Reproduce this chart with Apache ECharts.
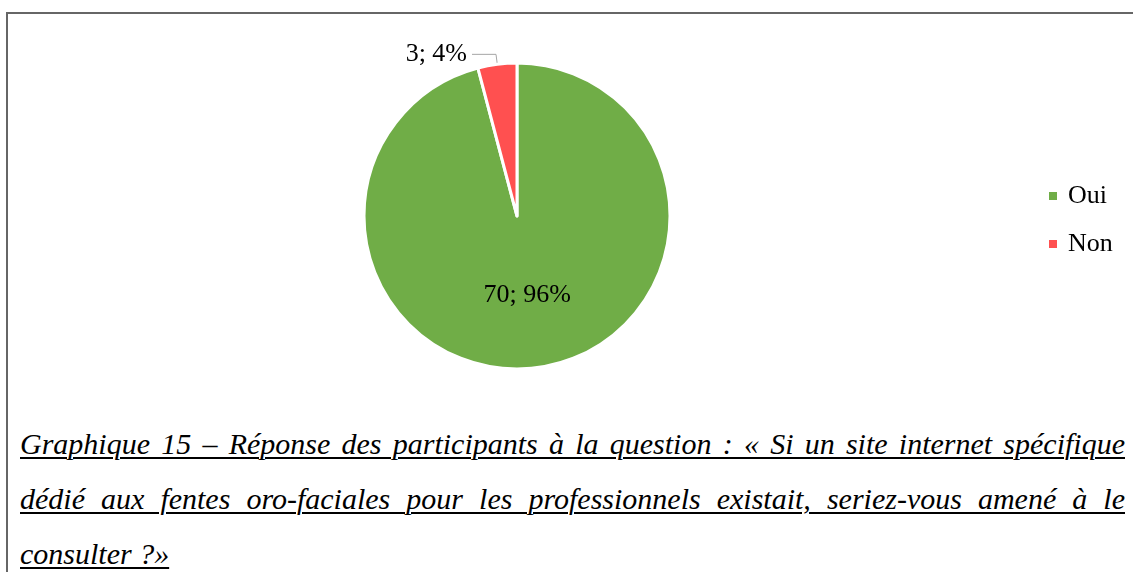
<!DOCTYPE html>
<html>
<head>
<meta charset="utf-8">
<script src="https://cdn.jsdelivr.net/npm/echarts@6/dist/echarts.min.js"></script>
<style>
  body { margin: 0; background: #fff; }
  #frame {
    position: absolute; left: 6px; top: 12px; width: 1140px; height: 600px;
    border-left: 2px solid #666; border-top: 2px solid #666;
  }
  #chart { position: absolute; left: 0; top: 0; width: 1127px; height: 380px; }
  #caption {
    position: absolute; left: 12px; top: 402px; width: 1105px;
    font-family: "Liberation Serif", serif; font-style: italic; font-size: 30px;
    line-height: 55px; color: #000;
  }
  #caption div { white-space: nowrap; text-decoration: underline; text-decoration-thickness: 2px; text-underline-offset: 3px; }
  #caption .j { text-align: justify; text-align-last: justify; }
</style>
</head>
<body>
<div id="frame">
  <div id="chart"></div>
  <div id="caption">
    <div class="j">Graphique 15 – Réponse des participants à la question : « Si un site internet spécifique</div>
    <div class="j">dédié aux fentes oro-faciales pour les professionnels existait, seriez-vous amené à le</div>
    <div><span>consulter ?»</span></div>
  </div>
</div>
<script>
var categories = ['Oui', 'Non'];
var counts = [70, 3];
var percents = ['96%', '4%'];
var colors = ['#70ad47', '#ff5050'];

var myChart = echarts.init(document.getElementById('chart'));

var data = [];
for (var i = 0; i < categories.length; i++) {
    data.push({
        name: categories[i],
        value: counts[i],
        pct: percents[i],
        itemStyle: {color: colors[i]},
        label: i === 0 ? {position: 'inside'} : {position: 'outside'}
    });
}

myChart.setOption({
    animation: false,
    legend: {
        orient: 'vertical',
        left: 1034,
        top: 164,
        itemWidth: 10,
        itemHeight: 10,
        itemGap: 22,
        icon: 'rect',
        textStyle: {
            fontFamily: 'Liberation Serif',
            fontSize: 26,
            color: '#000',
            padding: [0, 0, 0, 5]
        },
        data: categories
    },
    series: [{
        type: 'pie',
        center: [509, 202],
        radius: 153,
        startAngle: 90,
        clockwise: true,
        itemStyle: {borderColor: '#fff', borderWidth: 3},
        label: {
            fontFamily: 'Liberation Serif',
            fontSize: 26,
            color: '#000',
            formatter: function (p) {
                return p.value + '; ' + p.data.pct;
            }
        },
        labelLine: {
            length: 10,
            length2: 24,
            lineStyle: {color: '#a6a6a6', width: 1}
        },
        emphasis: {disabled: true},
        data: data
    }]
});
</script>
</body>
</html>
